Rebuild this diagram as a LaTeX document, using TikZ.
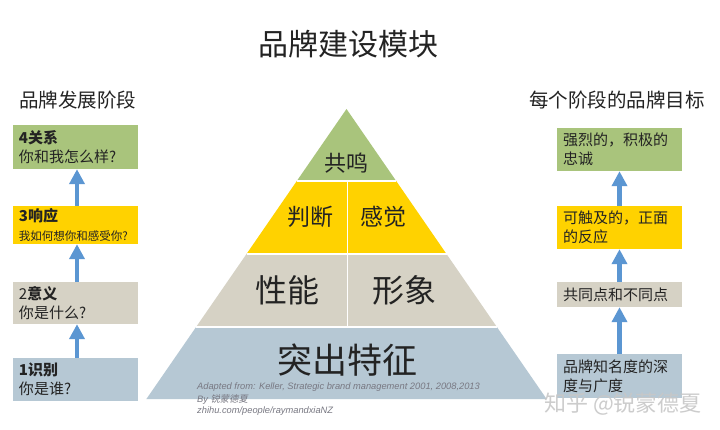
\documentclass[tikz,border=0pt]{standalone}
\usepackage{fontspec}
\setmainfont{Noto Sans CJK SC}
\newfontfamily\attrfont{Liberation Sans}
\newfontfamily\cjkslant{Noto Sans CJK SC}[FakeSlant=0.2]
\usetikzlibrary{arrows.meta}
\definecolor{pgreen}{RGB}{169,196,124}
\definecolor{pyellow}{RGB}{255,210,0}
\definecolor{pgray}{RGB}{214,210,197}
\definecolor{pblue}{RGB}{182,200,212}
\definecolor{parrow}{RGB}{91,150,210}
\definecolor{ink}{RGB}{35,35,35}
\definecolor{attrgray}{RGB}{120,120,130}
\begin{document}
\begin{tikzpicture}[x=1pt,y=-1pt,
  stagebox/.style={draw=none, minimum width=125pt, text width=113pt, inner xsep=6pt, inner ysep=0pt, align=left, text=ink, font=\fontsize{15}{19}\selectfont},
  upar/.style={draw=parrow, line width=4.5pt, -{Triangle[width=15pt,length=15pt]}},
  pyrtext/.style={text=ink, inner sep=0pt},
  sep/.style={draw=white, line width=1.5pt},
  attr/.style={anchor=west, inner sep=0pt, text=attrgray, font=\attrfont\itshape\fontsize{9.3}{10}\selectfont}
]
\useasboundingbox (0,0) rectangle (720,430);
\fill[white] (0,0) rectangle (720,430);

% titles
\node[text=ink, font=\fontsize{30}{30}\selectfont] (title) at (348,44) {品牌建设模块};
\node[text=ink, font=\fontsize{19.5}{20}\selectfont] (lt) at (78,100) {品牌发展阶段};
\node[text=ink, font=\fontsize{19.5}{20}\selectfont] (rt) at (617,100) {每个阶段的品牌目标};

% pyramid
\fill[pgreen] (346.5,109) -- (396.2,181) -- (296.8,181) -- cycle;
\fill[pyellow] (296.8,181) -- (396.2,181) -- (446.5,254) -- (246.5,254) -- cycle;
\fill[pgray] (246.5,254) -- (446.5,254) -- (496.9,327) -- (196.1,327) -- cycle;
\fill[pblue] (196.1,327) -- (496.9,327) -- (546.6,399) -- (146.4,399) -- cycle;
\draw[sep] (296.8,181) -- (396.2,181);
\draw[sep] (246.5,254) -- (446.5,254);
\draw[sep] (196.1,327) -- (496.9,327);
\draw[sep] (347.5,181) -- (347.5,327);

\node[pyrtext, font=\fontsize{22}{22}\selectfont] (gm) at (346,163) {共鸣};
\node[pyrtext, font=\fontsize{23}{23}\selectfont] (pd) at (310,217) {判断};
\node[pyrtext, font=\fontsize{23}{23}\selectfont] (gj) at (383,217) {感觉};
\node[pyrtext, font=\fontsize{32}{32}\selectfont] (xn) at (287,290) {性能};
\node[pyrtext, font=\fontsize{32}{32}\selectfont] (xx) at (404,290) {形象};
\node[pyrtext, font=\fontsize{35}{35}\selectfont] (tc) at (347,360) {突出特征};

% attribution
\node[attr] (a1) at (197,387) {Adapted from: Keller, Strategic brand management 2001, 2008,2013};
\node[attr] (a2) at (197,399.5) {By {\cjkslant 锐蒙德夏}};
\node[attr] (a3) at (197,411.5) {zhihu.com/people/raymandxiaNZ};

% left stages
\node[stagebox, fill=pgreen, minimum height=44pt] (l4) at (75.5,147) {\textbf{4关系}\\你和我怎么样?};
\node[stagebox, fill=pyellow, minimum height=38pt] (l3) at (75.5,225) {\textbf{3响应}\\{\fontsize{11.5}{14}\selectfont 我如何想你和感受你?}};
\node[stagebox, fill=pgray, minimum height=42pt] (l2) at (75.5,303) {2\textbf{意义}\\你是什么?};
\node[stagebox, fill=pblue, minimum height=43pt] (l1) at (75.5,379.5) {\textbf{1识别}\\你是谁?};

\draw[upar] ([xshift=1.5pt]l1.north) -- ([xshift=1.5pt]l2.south);
\draw[upar] ([xshift=1.5pt]l2.north) -- ([xshift=1.5pt]l3.south);
\draw[upar] ([xshift=1.5pt]l3.north) -- ([xshift=1.5pt]l4.south);

% right goals
\node[stagebox, fill=pgreen, minimum height=43pt] (r4) at (619.5,149.5) {强烈的，积极的\\忠诚};
\node[stagebox, fill=pyellow, minimum height=43pt] (r3) at (619.5,227.5) {可触及的，正面\\的反应};
\node[stagebox, fill=pgray, minimum height=25pt] (r2) at (619.5,294.5) {共同点和不同点};
\node[stagebox, fill=pblue, minimum height=44pt] (r1) at (619.5,376) {品牌知名度的深\\度与广度};

\draw[upar] (r1.north) -- (r2.south);
\draw[upar] (r2.north) -- (r3.south);
\draw[upar] (r3.north) -- (r4.south);

% watermark
\node[text=black!22, opacity=0.9, font=\fontsize{22}{22}\selectfont] (wm) at (623,404) {知乎 @锐蒙德夏};
\end{tikzpicture}
\end{document}
